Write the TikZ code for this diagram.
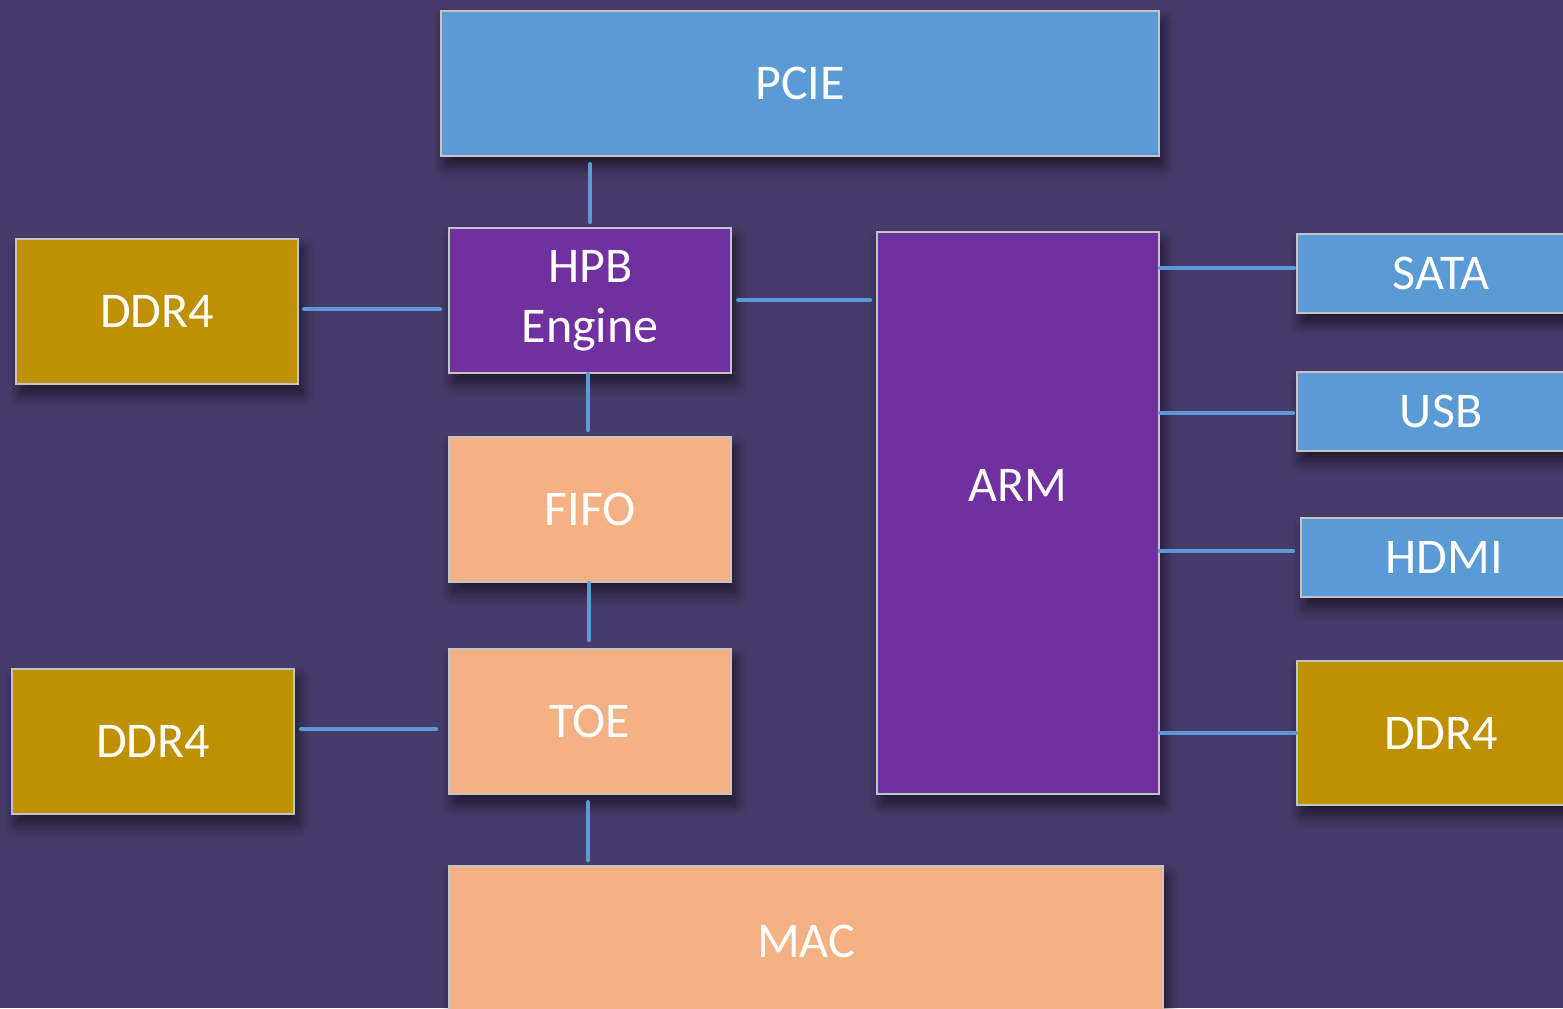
\documentclass[tikz,border=0pt]{standalone}
\usepackage{fontspec}
\setmainfont{Carlito}
\usetikzlibrary{shadows.blur}
\definecolor{bgc}{HTML}{463B6B}
\definecolor{bluec}{HTML}{5B9BD5}
\definecolor{goldc}{HTML}{BF9000}
\definecolor{purpc}{HTML}{7030A0}
\definecolor{peachc}{HTML}{F4B183}
\definecolor{edgec}{HTML}{C4C4C4}
\tikzset{
  blk/.style={draw=edgec, line width=1.1pt, rectangle, anchor=north west, inner sep=0pt,
    text=white, font=\fontsize{25}{30}\selectfont, align=center,
    blur shadow={shadow xshift=2pt, shadow yshift=-5pt, shadow blur radius=6pt, shadow blur steps=10, shadow opacity=60}},
  bluebox/.style={blk, fill=bluec},
  goldbox/.style={blk, fill=goldc},
  purpbox/.style={blk, fill=purpc},
  peachbox/.style={blk, fill=peachc},
  link/.style={draw=bluec, line width=2.2pt, line cap=round},
}
\begin{document}
\begin{tikzpicture}[x=0.5pt, y=-0.5pt]
\useasboundingbox (0,0) rectangle (1563,1008);
\clip (0,0) rectangle (1563,1008);
\fill[bgc] (0,0) rectangle (1563,1008);

\node[bluebox, minimum width=359pt, minimum height=72.5pt] (pcie) at (440,10) {PCIE};
\node[purpbox, minimum width=141pt, minimum height=72.5pt] (hpb) at (448,227) {\raisebox{-4pt}{HPB}\\\raisebox{-4pt}{Engine}};
\node[goldbox, minimum width=141pt, minimum height=72.5pt] (ddrA) at (15,238) {DDR4};
\node[peachbox, minimum width=141pt, minimum height=72.5pt] (fifo) at (448,436) {FIFO};
\node[peachbox, minimum width=141pt, minimum height=72.5pt] (toe) at (448,648) {TOE};
\node[goldbox, minimum width=141pt, minimum height=72.5pt] (ddrB) at (11,668) {DDR4};
\node[peachbox, minimum width=357pt, minimum height=75pt] (mac) at (448,865) {MAC};
\node[purpbox, minimum width=141pt, minimum height=281pt] (arm) at (876,231) {\raisebox{28pt}{ARM}};
\node[bluebox, minimum width=144pt, minimum height=39.5pt] (sata) at (1296,233) {SATA};
\node[bluebox, minimum width=144pt, minimum height=39.5pt] (usb) at (1296,371) {USB};
\node[bluebox, minimum width=143pt, minimum height=39.5pt] (hdmi) at (1300,517) {HDMI};
\node[goldbox, minimum width=144pt, minimum height=72pt] (ddrC) at (1296,660) {DDR4};

\draw[link] ([yshift=-3.5pt]pcie.south -| 590,0) -- ([yshift=2.5pt]hpb.north -| 590,0);
\draw[link] ([xshift=2.5pt]ddrA.east |- 0,309) -- ([xshift=-4pt]hpb.west |- 0,309);
\draw[link] ([xshift=3pt]hpb.east |- 0,300) -- ([xshift=-3pt]arm.west |- 0,300);
\draw[link] (hpb.south -| 588,0) -- ([yshift=3pt]fifo.north -| 588,0);
\draw[link] (fifo.south -| 589,0) -- ([yshift=4pt]toe.north -| 589,0);
\draw[link] ([xshift=3pt]ddrB.east |- 0,729) -- ([xshift=-6pt]toe.west |- 0,729);
\draw[link] ([yshift=-3.5pt]toe.south -| 588,0) -- ([yshift=2.5pt]mac.north -| 588,0);
\draw[link] (arm.east |- 0,268) -- ([xshift=-1pt]sata.west |- 0,268);
\draw[link] (arm.east |- 0,413) -- ([xshift=-1.5pt]usb.west |- 0,413);
\draw[link] (arm.east |- 0,551) -- ([xshift=-3.5pt]hdmi.west |- 0,551);
\draw[link] (arm.east |- 0,733) -- (ddrC.west |- 0,733);
\end{tikzpicture}
\end{document}
